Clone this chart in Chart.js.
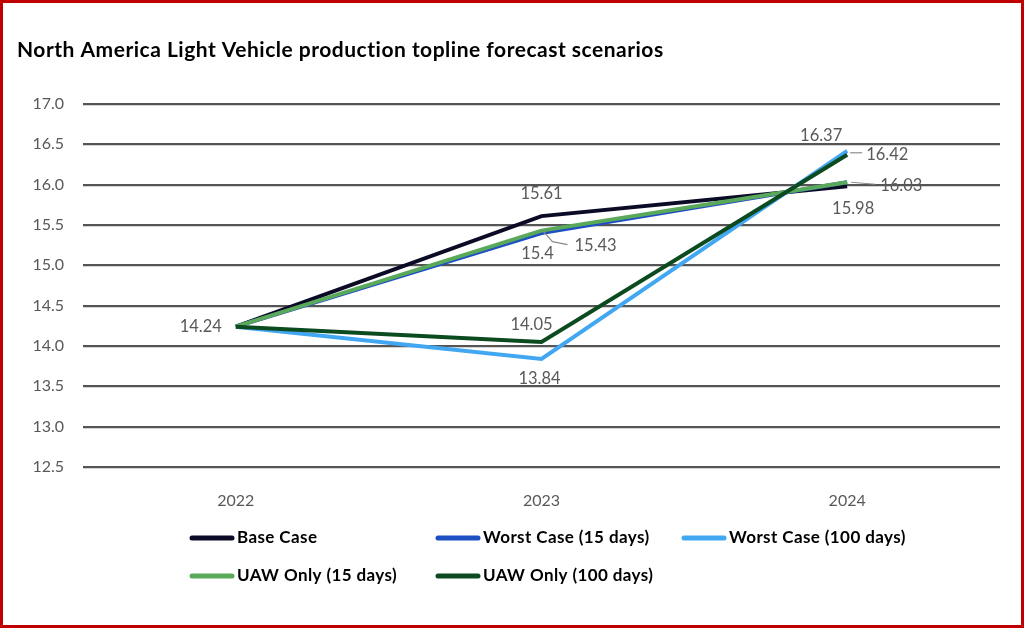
<!DOCTYPE html>
<html><head><meta charset="utf-8">
<script src="https://cdn.jsdelivr.net/npm/chart.js@4.4.0/dist/chart.umd.min.js"></script>
<style>html,body{margin:0;padding:0;background:#fff;}#wrap{width:1024px;height:628px;position:relative;}</style>
</head><body><div id="wrap"><canvas id="c" width="1024" height="628"></canvas></div>
<script>
const titleText = 'North America Light Vehicle production topline forecast scenarios';
const categories = ['2022', '2023', '2024'];
const seriesNames = ['Base Case', 'Worst Case (15 days)', 'Worst Case (100 days)', 'UAW Only (15 days)', 'UAW Only (100 days)'];
const baseCase = [14.24, 15.61, 15.98];
const worst15 = [14.24, 15.40, 16.03];
const worst100 = [14.24, 13.84, 16.42];
const uaw15 = [14.24, 15.43, 16.03];
const uaw100 = [14.24, 14.05, 16.37];
const yTickLabels = ['12.5', '13.0', '13.5', '14.0', '14.5', '15.0', '15.5', '16.0', '16.5', '17.0'];
const seriesColors = ['#0b0b26', '#1d4fc4', '#42a7f2', '#5aa95a', '#0c4a20'];

// label placement (offsets from each point, in px); null = no label
const labelPlacement = [
  [{dx:-14, dy:0, align:'right'}, {dx:0, dy:-22, align:'center'}, {dx:6, dy:22, align:'center'}],
  [null, {dx:-4, dy:21, align:'center'}, {dx:33, dy:3, align:'left', leader:[[4,0],[28,2]]}],
  [null, {dx:-2, dy:20, align:'center'}, {dx:19, dy:4, align:'left', leader:[[3,2],[15,2]]}],
  [null, {dx:33, dy:15, align:'left', leader:[[2,1],[11,11],[26,14]]}, null],
  [null, {dx:-10, dy:-17, align:'center'}, {dx:-26, dy:-19, align:'center'}]
];

const seriesValues = [baseCase, worst15, worst100, uaw15, uaw100];
const datasets = seriesNames.map((name, i) => ({
  label: name,
  data: seriesValues[i],
  borderColor: seriesColors[i],
  backgroundColor: seriesColors[i],
  borderWidth: 4,
  pointRadius: 0,
  tension: 0,
  order: 5 - i
}));

const decorPlugin = {
  id: 'decor',
  beforeDraw(chart) {
    const ctx = chart.ctx;
    ctx.save();
    ctx.fillStyle = '#fff';
    ctx.fillRect(0, 0, chart.width, chart.height);
    ctx.restore();
  },
  afterDraw(chart) {
    const ctx = chart.ctx;
    ctx.save();
    // title
    ctx.fillStyle = '#000';
    ctx.font = 'bold 21px Lato';
    ctx.letterSpacing = '0.5px';
    ctx.textBaseline = 'middle';
    ctx.textAlign = 'left';
    ctx.fillText(titleText, 17, 50);
    ctx.letterSpacing = '0px';
    // data labels
    ctx.font = '16.5px Lato';
    ctx.fillStyle = '#595959';
    chart.data.datasets.forEach((ds, i) => {
      const meta = chart.getDatasetMeta(i);
      meta.data.forEach((pt, j) => {
        const lp = labelPlacement[i][j];
        if (!lp) return;
        if (lp.leader) {
          ctx.strokeStyle = '#8c8c8c';
          ctx.lineWidth = 1.2;
          ctx.beginPath();
          lp.leader.forEach((p, k) => {
            if (k === 0) ctx.moveTo(pt.x + p[0], pt.y + p[1]);
            else ctx.lineTo(pt.x + p[0], pt.y + p[1]);
          });
          ctx.stroke();
        }
        ctx.textAlign = lp.align;
        ctx.fillText(String(ds.data[j]), pt.x + lp.dx, pt.y + lp.dy);
      });
    });
    // legend
    const cols = [190, 436, 682];
    const rows = [538, 576];
    ctx.font = 'bold 17px Lato';
    ctx.letterSpacing = '0.4px';
    ctx.textAlign = 'left';
    chart.data.datasets.forEach((ds, i) => {
      const x = cols[i % 3];
      const y = rows[Math.floor(i / 3)];
      ctx.strokeStyle = ds.borderColor;
      ctx.lineWidth = 5;
      ctx.lineCap = 'round';
      ctx.beginPath();
      ctx.moveTo(x + 2, y);
      ctx.lineTo(x + 42, y);
      ctx.stroke();
      ctx.fillStyle = '#000';
      ctx.fillText(ds.label, x + 47, y);
    });
    ctx.letterSpacing = '0px';
    // border
    ctx.strokeStyle = '#c00000';
    ctx.lineWidth = 3;
    ctx.strokeRect(1.5, 1.5, chart.width - 3, chart.height - 3);
    ctx.restore();
  }
};

new Chart(document.getElementById('c'), {
  type: 'line',
  data: { labels: categories, datasets },
  options: {
    responsive: false,
    animation: false,
    devicePixelRatio: 1,
    layout: { padding: { top: 104, left: 0, right: 24, bottom: 121 } },
    plugins: { legend: { display: false }, title: { display: false }, tooltip: { enabled: false } },
    scales: {
      x: {
        offset: true,
        grid: { display: false },
        border: { display: false },
        ticks: { color: '#595959', font: { family: 'Lato', size: 16 }, padding: 16 },
        afterFit(s) { s.height = 40; s.paddingLeft = 0; s.paddingRight = 0; }
      },
      y: {
        min: 12.5,
        max: 17.0,
        afterBuildTicks(s) { s.ticks = yTickLabels.map(v => ({ value: parseFloat(v) })); },
        grid: { color: '#555555', lineWidth: 2.2, drawTicks: false },
        border: { display: false },
        ticks: {
          color: '#595959',
          font: { family: 'Lato', size: 16 },
          padding: 19,
          callback: (v) => Number(v).toFixed(1)
        },
        afterFit(s) { s.width = 83; s.paddingTop = 0; s.paddingBottom = 0; }
      }
    }
  },
  plugins: [decorPlugin]
});
</script></body></html>
